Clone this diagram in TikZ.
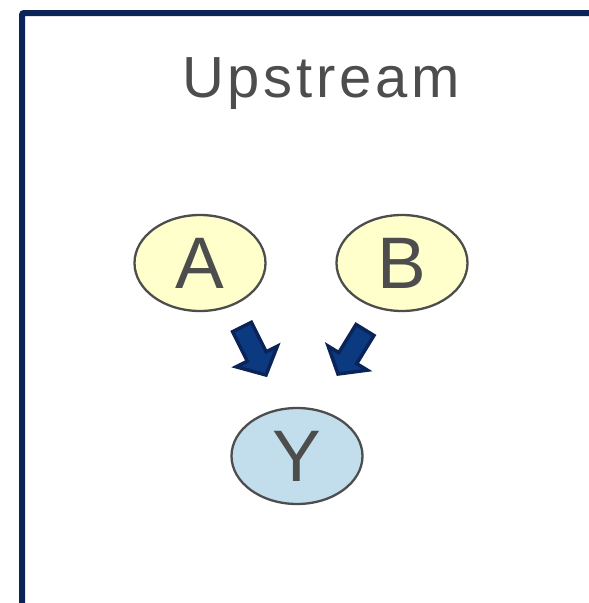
\documentclass[tikz,border=0pt]{standalone}
\usepackage{fontspec}
\setmainfont{Liberation Sans}
\usetikzlibrary{shapes.geometric,calc}
\definecolor{framecol}{HTML}{0A2459}
\definecolor{inkgray}{HTML}{4D4D4D}
\definecolor{causefill}{HTML}{FFFFCC}
\definecolor{effectfill}{HTML}{C2DDEC}
\definecolor{arrowfill}{HTML}{0B3A80}
\definecolor{arrowedge}{HTML}{0A2459}
\tikzset{
  titletext/.style={inkgray, inner sep=0pt,
    font=\fontsize{58}{60}\selectfont\addfontfeatures{LetterSpace=6.5}},
  varnode/.style={ellipse, draw=inkgray, line width=2.3pt, inner sep=0pt,
    minimum width=131pt, minimum height=96pt, text=inkgray,
    font=\fontsize{73}{75}\selectfont},
  cause/.style={varnode, fill=causefill},
  effect/.style={varnode, fill=effectfill},
  blockarrow/.style={fill=arrowfill, draw=arrowedge, line width=3.5pt, line join=miter},
}
% block arrow from tail coordinate #1 to tip coordinate #2
\newcommand{\fatarrow}[2]{%
  \coordinate (hb) at ($(#1)!33pt!(#2)$);
  \path[blockarrow]
    ($(#1)!10.5pt!90:(#2)$) -- ($(hb)!10.5pt!90:(#2)$) -- ($(hb)!23pt!90:(#2)$)
    -- (#2)
    -- ($(hb)!23pt!-90:(#2)$) -- ($(hb)!10.5pt!-90:(#2)$) -- ($(#1)!10.5pt!-90:(#2)$)
    -- cycle;
}
\begin{document}
\begin{tikzpicture}[x=1pt,y=-1pt]
\useasboundingbox (0,0) rectangle (589,603);
% frame around the panel
\draw[framecol, line width=6pt, rounded corners=2pt] (22,603) -- (22,13) -- (589,13);
% title
\node[titletext, anchor=base] (title) at (321,97) {Upstream};
% variables
\node[cause] (A) at (200,263) {A};
\node[cause] (B) at (402,263) {B};
\node[effect] (Y) at (297,456) {Y};
% arrows towards Y
\coordinate (atail) at (242,327);
\coordinate (atip) at (266,375);
\coordinate (btail) at (365,330);
\coordinate (btip) at (338,374);
\fatarrow{atail}{atip}
\fatarrow{btail}{btip}
\end{tikzpicture}
\end{document}
